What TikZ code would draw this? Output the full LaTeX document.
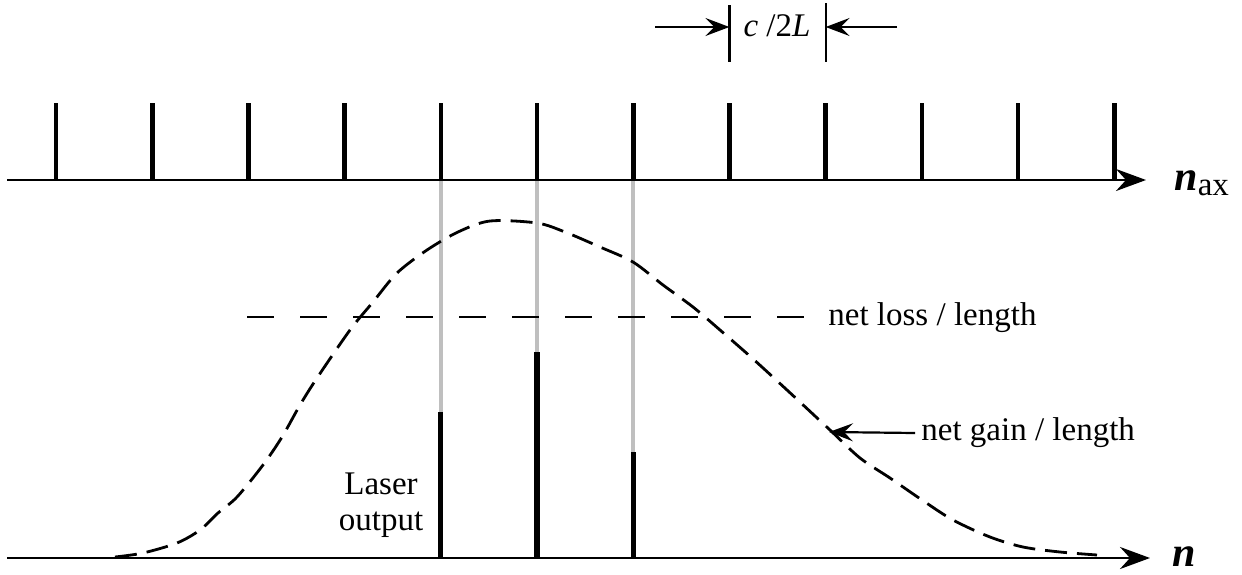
\documentclass[tikz,border=0pt]{standalone}
\usepackage{fontspec}
\setmainfont{Liberation Serif}
\usetikzlibrary{arrows.meta}
\tikzset{
  px/.style={x=0.5pt,y=-0.5pt},
  axisline/.style={line width=1.4pt,-{Stealth[length=15pt,width=11pt,inset=5pt]}},
  tickline/.style={line width=2.3pt},
  guide/.style={line width=1.8pt,color=black!25},
  laser/.style={line width=2.6pt},
  curve/.style={line width=1.4pt,dash pattern=on 11pt off 5pt},
  lossline/.style={line width=1.4pt,dash pattern=on 13.5pt off 13pt},
  dimline/.style={line width=1.1pt},
  dimarrow/.style={line width=1.1pt,-{Stealth[length=12pt,width=9pt,inset=4.5pt]}},
  lbl/.style={font=\fontsize{16.5}{18}\selectfont,inner sep=0pt},
  axlbl/.style={font=\fontsize{21}{24}\selectfont,inner sep=0pt},
}
\begin{document}
\begin{tikzpicture}[px]
\useasboundingbox (0,0) rectangle (1242,574);
% axes
\coordinate (topL) at (7,180);
\coordinate (topR) at (1146,180);
\coordinate (botL) at (7,558);
\coordinate (botR) at (1150,558);
% guides behind
\foreach \x in {440.8,537,633.2}{
  \draw[guide] (\x,180) -- (\x,558);
}
\draw[axisline] (topL) -- (topR);
\draw[axisline] (botL) -- (botR);
\node[axlbl,anchor=base west] (nuax) at (1174,190) {\textbf{\textit{n}}\raisebox{-0.3ex}{\fontsize{16.5}{18}\selectfont ax}};
\node[axlbl,anchor=base west] (nu) at (1172,566) {\textbf{\textit{n}}};
% ticks
\foreach \i in {0,...,11}{
  \draw[tickline] ({56+96.2*\i},103) -- ({56+96.2*\i},180);
}
% laser lines
\draw[laser] (440.8,558) -- (440.8,412);
\draw[laser] (537,558) -- (537,352);
\draw[laser] (633.2,558) -- (633.2,452);
\node[lbl,align=center] (laserout) at (381,505) {Laser\\output};
% dimension
\draw[dimline] (729.4,5) -- (729.4,62);
\draw[dimline] (825.6,3) -- (825.6,62);
\coordinate (dl) at (729.4,27);
\coordinate (dr) at (825.6,27);
\coordinate (al) at (655,27);
\coordinate (ar) at (897,27);
\draw[dimarrow] (al) -- (dl);
\draw[dimarrow] (ar) -- (dr);
\node[lbl] (cl) at (777,26) {\textit{c} /2\textit{L}};
% net loss line
\draw[lossline] (247,317) -- (812,317);
\node[lbl,anchor=west] (loss) at (828,318) {net loss / length};
% gain curve
\draw[curve] plot[smooth,tension=0.5] coordinates {
 (115,557) (143,553) (177,543) (200,530) (218,513) (237,497) (263,465)
 (282,437) (300,405) (317,378) (350,330) (373,302) (397,273) (427,250)
 (458,232) (490,221) (537,223) (565,232) (600,247) (633,262) (663,285)
 (693,307) (720,330) (752,358) (787,390) (830,430) (860,458) (890,478)
 (922,500) (953,520) (990,537) (1023,547) (1060,552) (1097,555)};
\coordinate (gaintip) at (829,432);
\node[lbl,anchor=west] (gain) at (921,433) {net gain / length};
\draw[dimarrow] (gain.west) ++(-6,0) coordinate (gs) -- (gaintip);
\end{tikzpicture}
\end{document}
